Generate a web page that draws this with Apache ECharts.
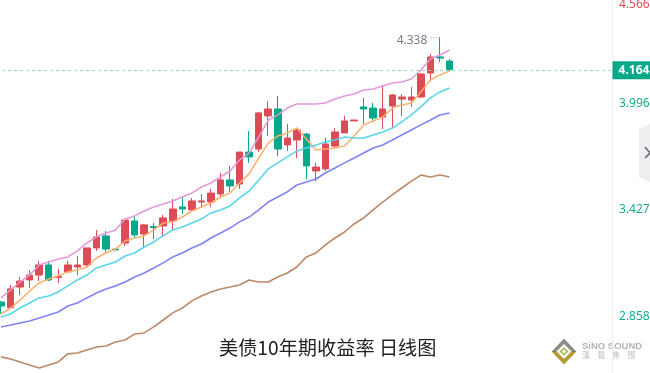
<!DOCTYPE html>
<html>
<head>
<meta charset="utf-8">
<style>html,body{margin:0;padding:0;background:#fff}#chart{width:650px;height:373px}</style>
<script src="https://cdn.jsdelivr.net/npm/echarts@6/dist/echarts.min.js"></script>
</head>
<body>
<div id="chart"></div>
<script>
// open, close, low, high
var candles = [
    [2.922,2.901,2.858,2.928],[2.892,2.992,2.890,3.013],[3.002,3.034,2.960,3.056],[3.040,3.066,2.997,3.093],
    [3.066,3.120,3.034,3.141],[3.120,3.040,3.034,3.141],[3.053,3.059,3.024,3.099],[3.083,3.120,3.083,3.141],
    [3.109,3.120,3.066,3.168],[3.120,3.211,3.109,3.211],[3.211,3.269,3.195,3.307],[3.275,3.205,3.189,3.301],
    [3.205,3.200,3.200,3.205],[3.237,3.360,3.221,3.366],[3.355,3.280,3.264,3.382],[3.285,3.334,3.216,3.339],
    [3.325,3.320,3.259,3.344],[3.328,3.371,3.275,3.387],[3.355,3.419,3.307,3.472],[3.430,3.419,3.392,3.483],
    [3.414,3.462,3.414,3.478],[3.456,3.462,3.424,3.499],[3.456,3.504,3.430,3.526],[3.499,3.574,3.483,3.611],
    [3.574,3.542,3.510,3.649],[3.552,3.723,3.526,3.723],[3.723,3.697,3.665,3.835],[3.739,3.932,3.723,3.937],
    [3.916,3.953,3.809,3.996],[3.953,3.739,3.702,4.022],[3.761,3.798,3.729,3.873],[3.787,3.841,3.691,3.846],
    [3.819,3.649,3.579,3.825],[3.622,3.643,3.568,3.665],[3.633,3.766,3.622,3.798],[3.755,3.830,3.745,3.851],
    [3.825,3.889,3.825,3.916],[3.889,3.894,3.889,3.894],[3.964,3.953,3.873,4.012],[3.958,3.905,3.889,3.985],
    [3.910,3.953,3.846,4.081],[3.969,4.028,3.857,4.033],[4.006,4.017,3.916,4.033],[4.001,4.017,3.964,4.070],
    [4.017,4.140,4.012,4.145],[4.145,4.231,4.102,4.247],[4.231,4.225,4.204,4.338],[4.209,4.164,4.156,4.220]
];
var ma5 = [2.858,2.890,2.933,2.981,3.024,3.045,3.061,3.083,3.093,3.109,3.157,3.184,3.205,3.248,3.264,3.275,
    3.307,3.344,3.350,3.376,3.408,3.430,3.451,3.483,3.504,3.558,3.606,3.691,3.771,3.809,3.825,3.851,
    3.793,3.734,3.739,3.745,3.755,3.809,3.868,3.889,3.910,3.958,3.974,3.985,4.044,4.108,4.135,4.156];
var ma10 = [2.842,2.858,2.890,2.917,2.944,2.954,2.976,3.008,3.040,3.066,3.104,3.120,3.136,3.168,3.184,3.216,
    3.243,3.275,3.307,3.323,3.344,3.366,3.398,3.414,3.435,3.478,3.515,3.574,3.633,3.665,3.697,3.729,
    3.745,3.761,3.777,3.787,3.803,3.798,3.798,3.814,3.830,3.851,3.884,3.921,3.964,4.012,4.044,4.065];
var ma20 = [2.944,2.986,3.029,3.066,3.120,3.136,3.152,3.163,3.195,3.237,3.269,3.291,3.307,3.366,3.382,3.408,
    3.430,3.446,3.462,3.483,3.504,3.536,3.558,3.590,3.622,3.681,3.718,3.803,3.894,3.921,3.958,3.980,
    3.980,3.980,3.985,4.006,4.022,4.033,4.054,4.060,4.076,4.092,4.097,4.113,4.161,4.220,4.241,4.268];
var ma60 = [2.789,2.799,2.810,2.821,2.837,2.853,2.869,2.901,2.917,2.944,2.970,2.992,3.008,3.029,3.056,3.077,
    3.104,3.131,3.163,3.184,3.211,3.232,3.264,3.291,3.317,3.350,3.376,3.414,3.456,3.483,3.510,3.547,
    3.563,3.579,3.611,3.638,3.665,3.691,3.718,3.745,3.761,3.787,3.814,3.841,3.868,3.894,3.921,3.932];
var ma120 = [2.629,2.618,2.602,2.586,2.570,2.586,2.602,2.645,2.650,2.666,2.682,2.687,2.709,2.719,2.751,2.757,
    2.789,2.826,2.864,2.890,2.928,2.954,2.976,2.992,3.002,3.013,3.040,3.029,3.029,3.056,3.077,3.109,
    3.163,3.184,3.227,3.264,3.296,3.339,3.371,3.414,3.456,3.494,3.531,3.568,3.600,3.590,3.600,3.590];
var yTicks = [2.858, 3.427, 3.996, 4.566];
var lastPrice = 4.164;
var highPrice = 4.338;
var highIndex = 46;

// empty slots keep the right part of the plot free, like the original terminal
var categories = [];
for (var i = 0; i < 65; i++) { categories.push(String(i)); }

var red = '#db4c57', green = '#07a88a';
var font = '"Noto Sans", sans-serif';

function maLine(name, data, color) {
    return {
        name: name, type: 'line', data: data, symbol: 'none', silent: true,
        lineStyle: {color: color, width: 1.6, opacity: 0.95}
    };
}

var myChart = echarts.init(document.getElementById('chart'));
var option = {
    animation: false,
    backgroundColor: '#fff',
    title: {
        text: '美债10年期收益率 日线图',
        left: 214, top: 333,
        textStyle: {color: '#222', fontSize: 19.2, fontWeight: 'normal', fontFamily: '"Noto Sans CJK SC", sans-serif'}
    },
    grid: {left: -3.77, right: 33.47, top: -5.8, bottom: 0, outerBoundsMode: 'none'},
    xAxis: {type: 'category', data: categories, show: false, boundaryGap: true},
    yAxis: {
        type: 'value', position: 'right', offset: -4.5,
        min: 2.543, max: 4.566,
        axisLine: {show: true, lineStyle: {color: '#eceef1'}},
        axisTick: {show: false},
        splitLine: {show: false},
        axisLabel: {
            customValues: yTicks,
            margin: 7, fontFamily: font, fontSize: 12,
            formatter: function (v) {
                var s = v.toFixed(3);
                return v > lastPrice + 0.3 ? '{top|' + s + '}' : '{low|' + s + '}';
            },
            rich: {
                top: {color: red, fontFamily: font, fontSize: 12, padding: [21, 0, 0, 0]},
                low: {color: '#16ad90', fontFamily: font, fontSize: 12, padding: [5, 0, 0, 0]}
            }
        }
    },
    series: [
        {
            name: 'K', type: 'candlestick', data: candles, barWidth: 7,
            itemStyle: {color: red, color0: green, borderColor: red, borderColor0: green, borderWidth: 1},
            markLine: {
                symbol: 'none', silent: true, animation: false,
                lineStyle: {color: '#9ccfc3', type: [3, 3], width: 1},
                data: [
                    {
                        yAxis: lastPrice,
                        label: {
                            show: true, position: 'end', distance: -4,
                            formatter: lastPrice.toFixed(3),
                            color: '#fff', fontFamily: font, fontSize: 12, fontWeight: 'bold',
                            backgroundColor: green, padding: [3, 6, 3, 6]
                        }
                    },
                    [
                        {coord: [highIndex - 1, highPrice], lineStyle: {color: '#9a9ea8', type: [1, 2], width: 1}, label: {show: false}},
                        {coord: [highIndex, highPrice]}
                    ]
                ]
            },
            markPoint: {
                symbol: 'rect', symbolSize: 1, silent: true, animation: false,
                itemStyle: {color: 'rgba(0,0,0,0)'},
                data: [{
                    coord: [highIndex, highPrice],
                    label: {
                        show: true, formatter: highPrice.toFixed(3), position: 'inside',
                        offset: [-28, 4],
                        color: '#787d88', fontFamily: font, fontSize: 12
                    }
                }]
            }
        },
        maLine('MA5', ma5, '#ffae6c'),
        maLine('MA10', ma10, '#4fd3e8'),
        maLine('MA20', ma20, '#e394d6'),
        maLine('MA60', ma60, '#7b7bf5'),
        maLine('MA120', ma120, '#b9825f')
    ],
    graphic: [
        // side handle
        {type: 'polygon', shape: {points: [[650, 124], [639, 129], [639, 177], [650, 182]]}, style: {fill: '#eeeef1'}},
        {type: 'polyline', shape: {points: [[645, 147], [650, 153], [645, 158]]}, style: {stroke: '#676b78', lineWidth: 1.6, fill: 'none'}},
        // watermark
        {type: 'polygon', shape: {points: [[564, 339], [576, 351.5], [564, 364], [552, 351.5]]}, style: {fill: '#3f3a32'}},
        {type: 'polygon', shape: {points: [[552, 351.5], [564, 339], [576, 351.5], [570, 351.5], [564, 345], [558, 351.5]]}, style: {fill: '#8d8d8d'}},
        {type: 'polygon', shape: {points: [[552, 351.5], [564, 364], [576, 351.5], [571, 351.5], [564, 359], [557, 351.5]]}, style: {fill: '#b89a2c'}},
        {type: 'polygon', shape: {points: [[564, 344], [571.5, 351.5], [564, 359], [556.5, 351.5]]}, style: {fill: '#fff'}},
        {type: 'polygon', shape: {points: [[564, 347], [568.5, 351.5], [564, 356], [559.5, 351.5]]}, style: {fill: '#a9bd5a'}},
        {type: 'polygon', shape: {points: [[564, 349.5], [566, 351.5], [564, 353.5], [562, 351.5]]}, style: {fill: '#fff'}},
        {type: 'text', left: 582, top: 341, style: {text: 'SiNO SOUND', fill: '#b4b4b4', font: 'bold 9.5px "Liberation Sans", sans-serif'}},
        {type: 'text', left: 582, top: 351, style: {text: '漢    聲    集    團', fill: '#c2c2c2', font: '8px "Noto Sans CJK TC", sans-serif'}}
    ]
};
myChart.setOption(option);
</script>
</body>
</html>
